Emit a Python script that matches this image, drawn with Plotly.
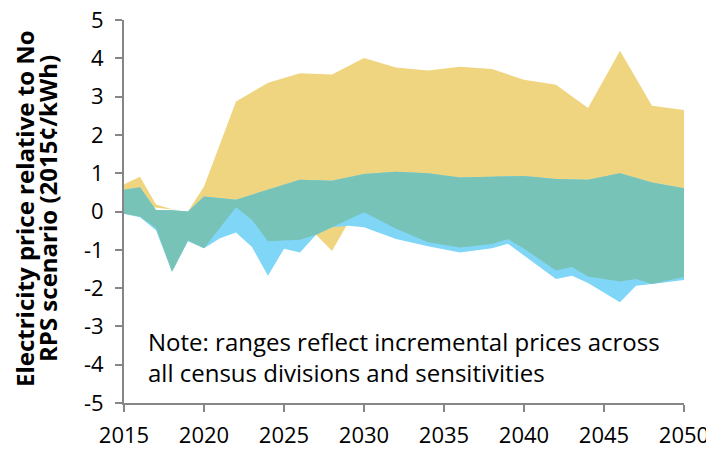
import plotly.graph_objects as go

# Upper edge of the yellow (widest) range
yellow_top_years = [2015, 2016, 2017, 2018, 2019, 2020, 2022, 2024, 2026, 2028, 2030,
                    2032, 2034, 2036, 2038, 2040, 2042, 2044, 2046, 2048, 2050]
yellow_top = [0.71, 0.91, 0.18, 0.06, 0.0, 0.65, 2.87, 3.36, 3.61, 3.58, 4.01,
              3.76, 3.68, 3.78, 3.72, 3.44, 3.31, 2.70, 4.20, 2.76, 2.65]

# Lower edge of the yellow range (visible only around 2027-2029)
yellow_low_years = [2015, 2019, 2020, 2022, 2024, 2026, 2027, 2028, 2029, 2030, 2050]
yellow_low = [0.2, 0.0, 0.2, 0.2, 0.0, -0.74, -0.61, -1.03, -0.30, 0.0, 0.0]

# Upper edge of the overlap (teal) range
teal_top_years = [2015, 2016, 2017, 2018, 2019, 2020, 2022, 2024, 2026, 2028, 2030,
                  2032, 2034, 2036, 2038, 2040, 2042, 2044, 2046, 2048, 2050]
teal_top = [0.57, 0.63, 0.04, 0.03, 0.0, 0.39, 0.31, 0.57, 0.83, 0.80, 0.98,
            1.04, 1.00, 0.89, 0.91, 0.93, 0.85, 0.83, 1.00, 0.76, 0.61]

# Lower edge of the overlap (teal) range
teal_low_years = [2015, 2016, 2017, 2018, 2019, 2020, 2022, 2023, 2024, 2026, 2027,
                  2028, 2029, 2030, 2032, 2034, 2036, 2038, 2039, 2040, 2042, 2043,
                  2044, 2046, 2047, 2048, 2050]
teal_low = [-0.06, -0.13, -0.43, -1.57, -0.76, -0.96, 0.11, -0.22, -0.78, -0.74, -0.61,
            -0.41, -0.22, -0.02, -0.45, -0.80, -0.94, -0.85, -0.72, -0.97, -1.54, -1.45,
            -1.70, -1.83, -1.76, -1.89, -1.71]

# Lower edge of the blue range
blue_low_years = [2015, 2016, 2017, 2018, 2019, 2020, 2021, 2022, 2023, 2024, 2025,
                  2026, 2027, 2028, 2029, 2030, 2032, 2034, 2036, 2038, 2039, 2040,
                  2042, 2043, 2044, 2046, 2047, 2048, 2050]
blue_low = [-0.06, -0.15, -0.49, -1.57, -0.78, -0.96, -0.70, -0.55, -0.93, -1.68, -0.97,
            -1.07, -0.61, -0.41, -0.37, -0.41, -0.72, -0.91, -1.07, -0.96, -0.84, -1.15,
            -1.76, -1.68, -1.87, -2.37, -1.94, -1.89, -1.79]

y_ticks = [-5, -4, -3, -2, -1, 0, 1, 2, 3, 4, 5]
y_tick_labels = ["-5", "-4", "-3", "-2", "-1", "0", "1", "2", "3", "4", "5"]
x_ticks = [2015, 2020, 2025, 2030, 2035, 2040, 2045, 2050]
x_tick_labels = ["2015", "2020", "2025", "2030", "2035", "2040", "2045", "2050"]

title_lines = ["Electricity price relative to No", "RPS scenario (2015¢/kWh)"]
note_text = "Note: ranges reflect incremental prices across<br>all census divisions and sensitivities"

YELLOW = "#F0D580"
BLUE = "#80D6F7"
TEAL = "#78C3B7"
FONT = "Open Sans"
AXIS = "#868686"


def band(top_x, top_y, low_x, low_y, color):
    return go.Scatter(
        x=list(top_x) + list(low_x)[::-1],
        y=list(top_y) + list(low_y)[::-1],
        mode="lines", fill="toself", fillcolor=color,
        line=dict(width=0, color=color), hoverinfo="skip", showlegend=False,
    )


fig = go.Figure()
fig.add_trace(band(yellow_top_years, yellow_top, yellow_low_years, yellow_low, YELLOW))
fig.add_trace(band(teal_top_years, teal_top, blue_low_years, blue_low, BLUE))
fig.add_trace(band(teal_top_years, teal_top, teal_low_years, teal_low, TEAL))

# the page body adds an 8px offset; size the figure to fit the window
OFF = 8
W, H = 714 - OFF, 449 - OFF
L, R, T, B = 124 - OFF, 30, 20 - OFF, 46
pw, ph = W - L - R, H - T - B


def px_x(sx):
    return (sx - 124) / pw


def px_y(sy):
    return (449 - 46 - sy) / ph


fig.update_layout(
    width=W, height=H,
    margin=dict(l=L, r=R, t=T, b=B),
    paper_bgcolor="white", plot_bgcolor="white",
    font=dict(family=FONT, size=22, color="#000000"),
    xaxis=dict(range=[2015, 2050], tickvals=x_ticks, ticktext=x_tick_labels,
               ticks="outside", ticklen=7, ticklabelstandoff=5, ticklabeloverflow="allow",
               tickwidth=2, tickcolor=AXIS, showline=True, linewidth=2,
               linecolor=AXIS, showgrid=False, zeroline=False, automargin=False,
               tickfont=dict(family=FONT, size=22)),
    yaxis=dict(range=[-5, 5], tickvals=y_ticks, ticktext=y_tick_labels,
               ticks="outside", ticklen=7, ticklabelstandoff=7, ticklabeloverflow="allow",
               tickwidth=2, tickcolor=AXIS, showline=True, linewidth=2,
               linecolor=AXIS, showgrid=False, zeroline=False, automargin=False,
               tickfont=dict(family=FONT, size=22)),
    annotations=[
        dict(text="<b>" + title_lines[0] + "</b>",
             x=px_x(24), y=px_y(209), xref="paper", yref="paper",
             showarrow=False, textangle=-90, font=dict(family=FONT, size=24),
             xanchor="center", yanchor="middle"),
        dict(text="<b>" + title_lines[1] + "</b>",
             x=px_x(47), y=px_y(209), xref="paper", yref="paper",
             showarrow=False, textangle=-90, font=dict(family=FONT, size=24),
             xanchor="center", yanchor="middle"),
        dict(text=note_text,
             x=2016.4, y=-3.79, xref="x", yref="y", showarrow=False, align="left",
             xanchor="left", yanchor="middle", font=dict(family=FONT, size=24)),
    ],
)

fig.write_html("out.html")
